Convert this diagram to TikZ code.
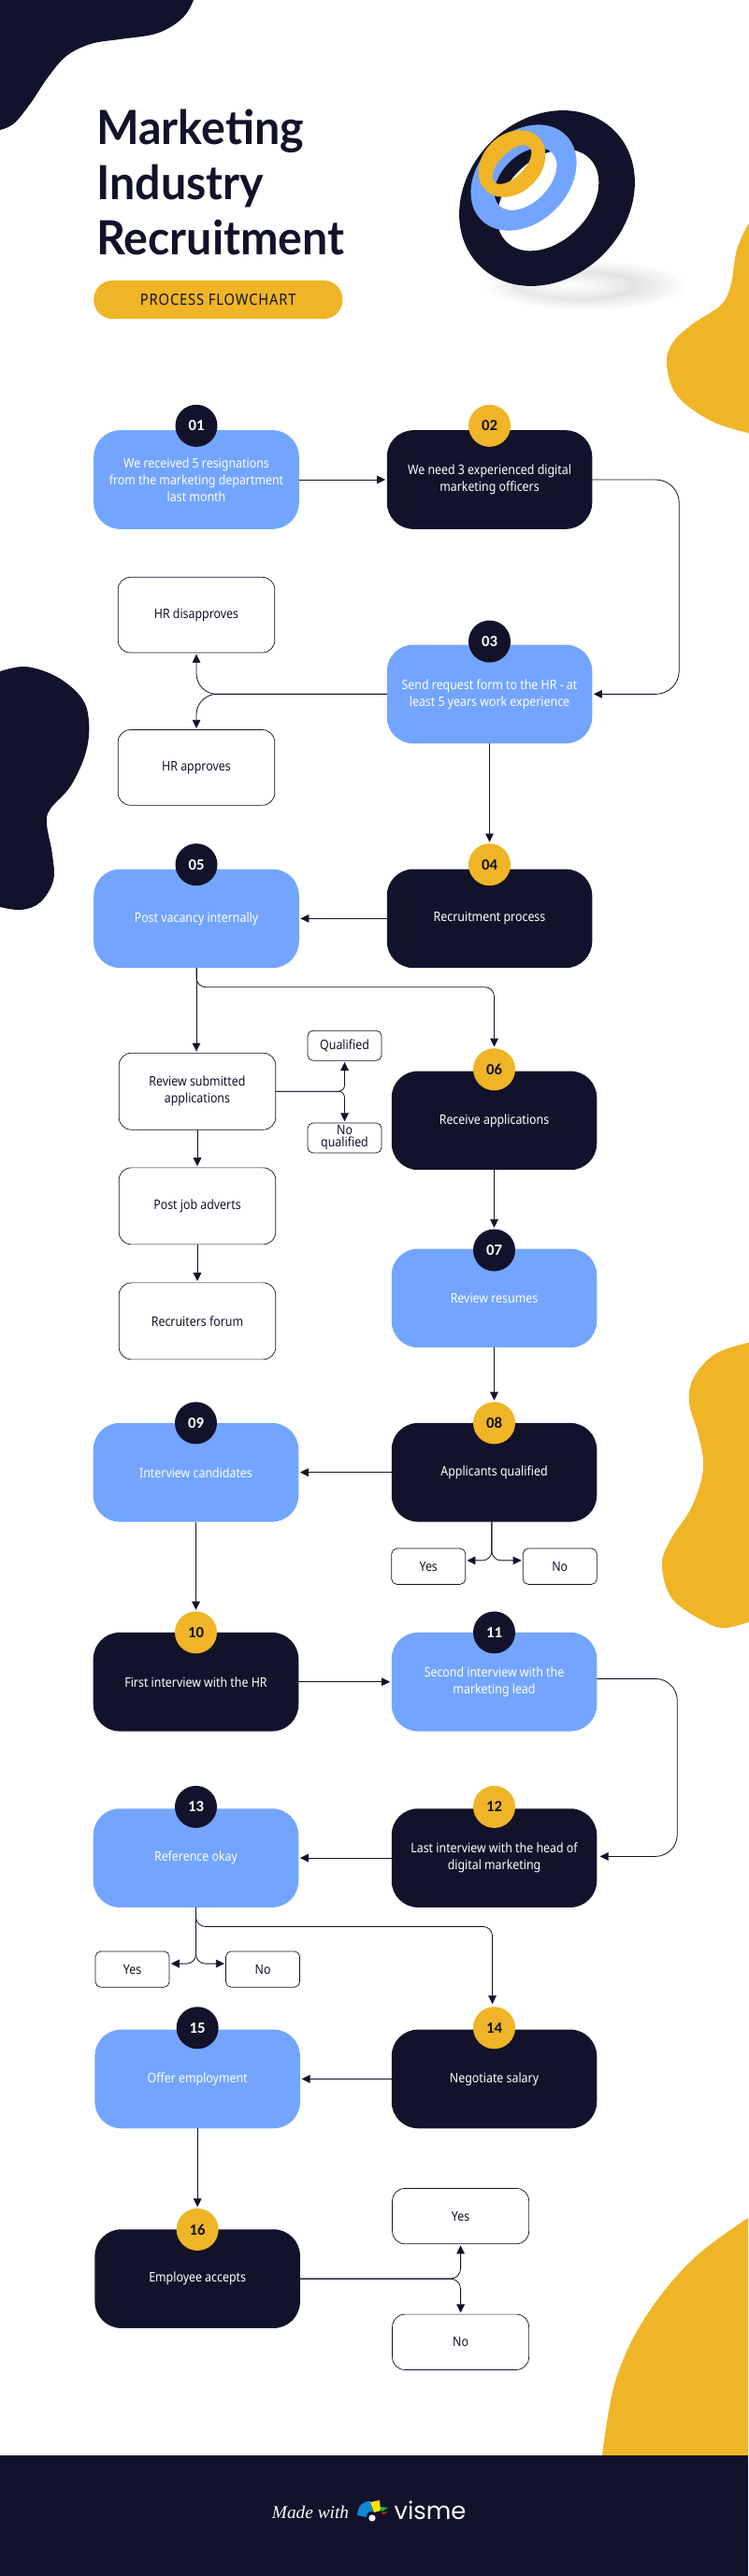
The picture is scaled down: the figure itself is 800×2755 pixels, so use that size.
\documentclass[tikz,border=0pt]{standalone}
\usepackage{fontspec}
\usepackage{tikz}
\usetikzlibrary{arrows.meta,positioning}
\setmainfont[FakeStretch=0.88]{Noto Sans}
\newfontfamily\titlefont[FakeStretch=0.96]{Lato}
\newfontfamily\badgefont{Carlito}
\newfontfamily\madefont{Liberation Serif}
\newfontfamily\vismefont{Poppins}
\definecolor{inkdark}{HTML}{12122A}
\definecolor{skyblue}{HTML}{73A5FF}
\definecolor{sunyellow}{HTML}{EFB526}

\begin{document}
\begin{tikzpicture}[
    x=0.03cm, y=-0.03cm,
    boxtext/.style={align=center, font=\fontsize{12}{15.4}\selectfont},
    blueproc/.style={rectangle, fill=skyblue, text=white, rounded corners=0.85cm, minimum width=6.585cm, minimum height=3.17cm, inner sep=0pt, outer sep=0pt, boxtext},
    darkproc/.style={blueproc, fill=inkdark},
    note/.style={rectangle, draw=inkdark, line width=0.6pt, fill=white, text=inkdark, rounded corners=0.4cm, minimum width=5.03cm, minimum height=2.42cm, inner sep=0pt, outer sep=0pt, boxtext},
    smallnote/.style={note, rounded corners=0.17cm, minimum width=2.37cm, minimum height=1.15cm},
    badge/.style={circle, minimum size=1.35cm, inner sep=0pt, outer sep=0pt, font=\fontsize{14.3}{14.3}\badgefont\bfseries},
    badgedark/.style={badge, fill=inkdark, text=white},
    badgeyellow/.style={badge, fill=sunyellow, text=inkdark},
    flow/.style={->, >={Triangle[length=0.27cm,width=0.26cm]}, draw=inkdark, line width=0.7pt, shorten >=0.05cm}
]
    \useasboundingbox (0,0) rectangle (800,2755);

    % Blobs
    \fill[inkdark] (0,0) -- plot[smooth, tension=0.6] coordinates {(207,0) (199,15) (184,28) (163,37) (128,42) (97,47) (71,60) (51,83) (33,110) (15,132) (0,139)} -- cycle;
    \fill[sunyellow] (820,240) -- plot[smooth, tension=0.6] coordinates {(800,240) (788,267) (781,307) (770,327) (740,347) (719,367) (713,390) (724,423) (760,450) (800,463)} -- (820,463) -- cycle;
    \fill[inkdark] (-20,718) -- plot[smooth, tension=0.6] coordinates {(0,718) (28,713) (61,724) (87,746) (95,771) (92,804) (76,840) (54,865) (50,881) (56,914) (57,942) (43,965) (23,973) (0,970)} -- (-20,970) -- cycle;
    \fill[sunyellow] (820,1436) -- plot[smooth, tension=0.6] coordinates {(800,1436) (765,1448) (742,1473) (737,1500) (747,1535) (752,1571) (740,1611) (717,1647) (708,1674) (719,1710) (755,1735) (775,1741) (800,1735)} -- (820,1735) -- cycle;
    \fill[sunyellow] (800,2372) -- plot[smooth, tension=0.6] coordinates {(800,2372) (740,2417) (689,2480) (658,2547) (644,2626)} -- (800,2626) -- cycle;
    \fill[inkdark] (0,2626) rectangle (800,2755);

    % Rings
    \shade[inner color=black!22, outer color=white] (626,305) ellipse[x radius=110, y radius=27];
    \shade[inner color=white, outer color=white!90!black] (612,305) ellipse[x radius=65, y radius=14];
    \fill[inkdark, even odd rule] (585,212) ellipse[x radius=102, y radius=85, rotate=45] (586,214) ellipse[x radius=63, y radius=44, rotate=45];
    \fill[skyblue, even odd rule] (560,190) ellipse[x radius=64, y radius=48, rotate=45] (562,191.5) ellipse[x radius=40, y radius=25, rotate=45];
    \fill[sunyellow, even odd rule] (547.5,175) ellipse[x radius=40, y radius=31, rotate=45] (547.5,176) ellipse[x radius=26.5, y radius=13, rotate=45];

    % Title
    \node[anchor=north west, align=left, inner sep=0pt, text=inkdark, font=\fontsize{43}{50.1}\titlefont\bfseries] (title) at (103,117) {Marketing\\Industry\\Recruitment};
    \node[rectangle, fill=sunyellow, text=inkdark, rounded corners=0.6cm, minimum width=7.98cm, minimum height=1.23cm, inner sep=0pt, font=\fontsize{14.3}{14.3}\selectfont\addfontfeature{LetterSpace=5}] (subtitle) at (233.3,320.5) {PROCESS FLOWCHART};

    % First rows
    \node[blueproc] (s01) at (210,513) {We received 5 resignations\\from the marketing department\\last month};
    \node[darkproc, right=2.82cm of s01] (s02) {We need 3 experienced digital\\marketing officers};
    \node[blueproc, below=3.71cm of s02] (s03) {Send request form to the HR - at\\least 5 years work experience};
    \node[darkproc, below=4.03cm of s03] (s04) {Recruitment process};
    \node[blueproc, left=2.82cm of s04] (s05) {Post vacancy internally};
    \node[note, below=1.545cm of s01] (hrdis) {HR disapproves};
    \node[note, below=2.475cm of hrdis] (hrapp) {HR approves};

    % Applications
    \node[note, below=2.73cm of s05, xshift=0.03cm, minimum height=2.46cm] (review) {Review submitted\\applications};
    \node[note, below=1.22cm of review, minimum height=2.46cm] (adverts) {Post job adverts};
    \node[note, below=1.23cm of adverts, minimum height=2.46cm] (forum) {Recruiters forum};
    \node[smallnote, minimum height=0.96cm, above right=-0.24cm and 1.026cm of review] (qual) {Qualified};
    \node[smallnote, minimum height=0.96cm, below right=-0.216cm and 1.026cm of review, font=\fontsize{12}{11}\selectfont] (noqual) {No\\qualified};
    \node[darkproc, below=3.31cm of s04, xshift=0.15cm] (s06) {Receive applications};
    \node[blueproc, below=2.53cm of s06] (s07) {Review resumes};
    \node[darkproc, below=2.42cm of s07] (s08) {Applicants qualified};
    \node[blueproc, left=2.985cm of s08] (s09) {Interview candidates};
    \node[smallnote, below right=0.855cm and 0cm of s08.south west] (yes08) {Yes};
    \node[smallnote, below left=0.855cm and 0cm of s08.south east] (no08) {No};

    % Interviews
    \node[darkproc, below=3.55cm of s09] (s10) {First interview with the HR};
    \node[blueproc, right=2.985cm of s10] (s11) {Second interview with the\\marketing lead};
    \node[darkproc, below=2.48cm of s11] (s12) {Last interview with the head of\\digital marketing};
    \node[blueproc, left=2.985cm of s12] (s13) {Reference okay};
    \node[smallnote, below right=1.41cm and 0.07cm of s13.south west] (yes13) {Yes};
    \node[smallnote, below left=1.41cm and -0.04cm of s13.south east] (no13) {No};
    \node[darkproc, below=3.92cm of s12] (s14) {Negotiate salary};
    \node[blueproc, left=2.935cm of s14] (s15) {Offer employment};
    \node[darkproc, below=3.24cm of s15] (s16) {Employee accepts};
    \node[note, minimum width=4.38cm, minimum height=1.78cm, right=2.96cm of s16, yshift=2.01cm] (yes16) {Yes};
    \node[note, minimum width=4.38cm, minimum height=1.78cm, right=2.96cm of s16, yshift=-2.03cm] (no16) {No};

    % Badges
    \node[badgedark, above=-0.53cm of s01] (b01) {01};
    \node[badgeyellow, above=-0.53cm of s02] (b02) {02};
    \node[badgedark, above=-0.57cm of s03] (b03) {03};
    \node[badgeyellow, above=-0.53cm of s04] (b04) {04};
    \node[badgedark, above=-0.53cm of s05] (b05) {05};
    \node[badgeyellow, above=-0.62cm of s06] (b06) {06};
    \node[badgedark, above=-0.72cm of s07] (b07) {07};
    \node[badgeyellow, above=-0.675cm of s08] (b08) {08};
    \node[badgedark, above=-0.675cm of s09] (b09) {09};
    \node[badgeyellow, above=-0.675cm of s10] (b10) {10};
    \node[badgedark, above=-0.675cm of s11] (b11) {11};
    \node[badgeyellow, above=-0.62cm of s12] (b12) {12};
    \node[badgedark, above=-0.62cm of s13] (b13) {13};
    \node[badgeyellow, above=-0.62cm of s14] (b14) {14};
    \node[badgedark, above=-0.62cm of s15] (b15) {15};
    \node[badgeyellow, above=-0.68cm of s16] (b16) {16};

    % Connections
    \draw[flow] (s01) -- (s02);
    \draw[flow, rounded corners=0.75cm] (s02.east) -- ++(93,0) |- (s03.east);
    \draw[flow, rounded corners=0.66cm] (s03.west) -| (hrdis.south);
    \draw[flow, rounded corners=0.66cm] (s03.west) -| (hrapp.north);
    \draw[flow] (s03) -- (b04);
    \draw[flow] (s04) -- (s05);
    \draw[flow] (s05.south) -- (review.north -| s05.south);
    \draw[flow, rounded corners=0.3cm] (s05.south) -- ++(0,20.5) -| (b06.north);
    \draw[flow, rounded corners=0.2cm] (review.east) -| (qual.south);
    \draw[flow, rounded corners=0.2cm] (review.east) -| (noqual.north);
    \draw[flow] (review) -- (adverts);
    \draw[flow] (adverts) -- (forum);
    \draw[flow] (s06) -- (b07);
    \draw[flow] (s07) -- (b08);
    \draw[flow] (s08) -- (s09);
    \draw[flow, rounded corners=0.3cm] ([xshift=-0.08cm]s08.south) |- ([yshift=0.19cm]yes08.east);
    \draw[flow, rounded corners=0.3cm] ([xshift=-0.08cm]s08.south) |- ([yshift=0.19cm]no08.west);
    \draw[flow] (s09) -- (b10);
    \draw[flow] (s10) -- (s11);
    \draw[flow, rounded corners=0.7cm, shorten >=0.1cm] ([yshift=0.1cm]s11.east) -- ++(86,0) |- ([yshift=0.05cm]s12.east);
    \draw[flow] (s12) -- (s13);
    \draw[flow, rounded corners=0.3cm] (s13.south) |- ([yshift=0.18cm]yes13.east);
    \draw[flow, rounded corners=0.3cm] (s13.south) |- ([yshift=0.18cm]no13.west);
    \draw[flow, rounded corners=0.3cm, shorten >=0.09cm] (s13.south) -- ++(0,20.5) -| ([xshift=-0.06cm]b14.north);
    \draw[flow] (s14) -- (s15);
    \draw[flow] (s15) -- (b16);
    \draw[flow, rounded corners=0.33cm] (s16.east) -| (yes16.south);
    \draw[flow, rounded corners=0.33cm] (s16.east) -| (no16.north);

    % Footer
    \node[text=white, inner sep=0pt, font=\fontsize{16.5}{16.5}\madefont\itshape] (madewith) at (332,2687) {Made with};
    \node[text=white, inner sep=0pt, font=\fontsize{22}{22}\vismefont] (visme) at (460,2685) {visme};
    \fill[cyan!70!blue] (382,2690) .. controls (383,2679) and (388,2675) .. (396,2675) -- (399,2686) .. controls (395,2685) and (392,2687) .. (392,2692) -- cycle;
    \fill[yellow!85!orange] (396,2676) -- (406,2674) -- (407,2685) -- (400,2687) -- cycle;
    \fill[green!60!teal] (407,2681) -- (415,2682) -- (408,2686) -- cycle;
    \fill[red!70!orange] (408,2687) -- (415,2686) -- (410,2689) -- cycle;
    \fill[white] (398,2693) circle[radius=3.6];
\end{tikzpicture}
\end{document}
